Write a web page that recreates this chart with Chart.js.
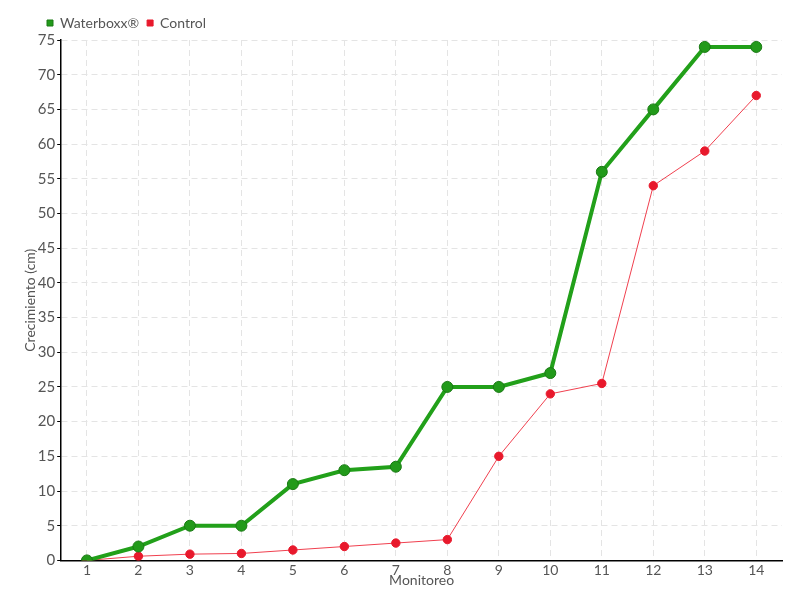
<!DOCTYPE html>
<html><head><meta charset="utf-8">
<script src="https://cdn.jsdelivr.net/npm/chart.js@4"></script>
<style>html,body{margin:0;padding:0;background:#fff}#w{width:800px;height:600px}</style>
</head><body><div id="w"><canvas id="c"></canvas></div>
<script>
const categories = ['1','2','3','4','5','6','7','8','9','10','11','12','13','14'];
const waterboxx = [0, 2, 5, 5, 11, 13, 13.5, 25, 25, 27, 56, 65, 74, 74];
const control = [0, 0.6, 0.9, 1, 1.5, 2, 2.5, 3, 15, 24, 25.5, 54, 59, 67];
const seriesNames = ['Waterboxx®', 'Control'];
const FONT = "Lato, 'Liberation Sans', sans-serif";
Chart.defaults.font.family = FONT;
Chart.defaults.color = '#555';
const legendShift = {
  id: 'legendShift',
  beforeDraw(chart) {
    const lg = chart.legend;
    if (!lg) return;
    const w = lg.right - lg.left;
    lg.left = 39; lg.right = 39 + w;
  }
};
new Chart(document.getElementById('c'), {
  type: 'line',
  data: {
    labels: categories,
    datasets: [
      { label: seriesNames[0], data: waterboxx, borderColor: '#22a01a', backgroundColor: '#1e9a16',
        pointBackgroundColor: '#229a1a', pointBorderColor: '#1a7a14', pointBorderWidth: 1,
        borderWidth: 4, pointRadius: 5.5, tension: 0 },
      { label: seriesNames[1], data: control, borderColor: '#f0404f', backgroundColor: '#e8192c',
        pointBackgroundColor: '#e8192c', pointBorderColor: '#e8192c', pointBorderWidth: 1,
        borderWidth: 1, pointRadius: 4.2, tension: 0 }
    ]
  },
  plugins: [legendShift],
  options: {
    responsive: true, maintainAspectRatio: false, animation: false,
    layout: { padding: { left: 22, right: 18, top: 8, bottom: 11 } },
    plugins: {
      legend: { position: 'top', align: 'start',
        labels: { usePointStyle: true, pointStyle: 'rect', boxWidth: 6, boxHeight: 6, padding: 8,
          font: { size: 14 }, color: '#555' } },
      tooltip: { enabled: false }
    },
    scales: {
      x: { offset: true,
        grid: { color: '#e4e4e4', drawTicks: false, offset: false },
        border: { color: '#000', width: 1.5, dash: [6,4] },
        ticks: { font: { size: 14 }, color: '#555', padding: 2 },
        title: { display: true, text: 'Monitoreo', font: { size: 14 }, color: '#555', padding: { top: -9, bottom: 0 } } },
      y: { min: 0, max: 75,
        grid: { color: '#e4e4e4', drawTicks: true, tickColor: '#000', tickLength: 4 },
        border: { color: '#000', width: 1.5, dash: [6,4] },
        ticks: { stepSize: 5, font: { size: 15 }, color: '#555', padding: 2 },
        title: { display: true, text: 'Crecimiento (cm)', font: { size: 14 }, color: '#555', padding: { top: 0, bottom: -3 } } }
    }
  }
});
</script>
</body></html>
